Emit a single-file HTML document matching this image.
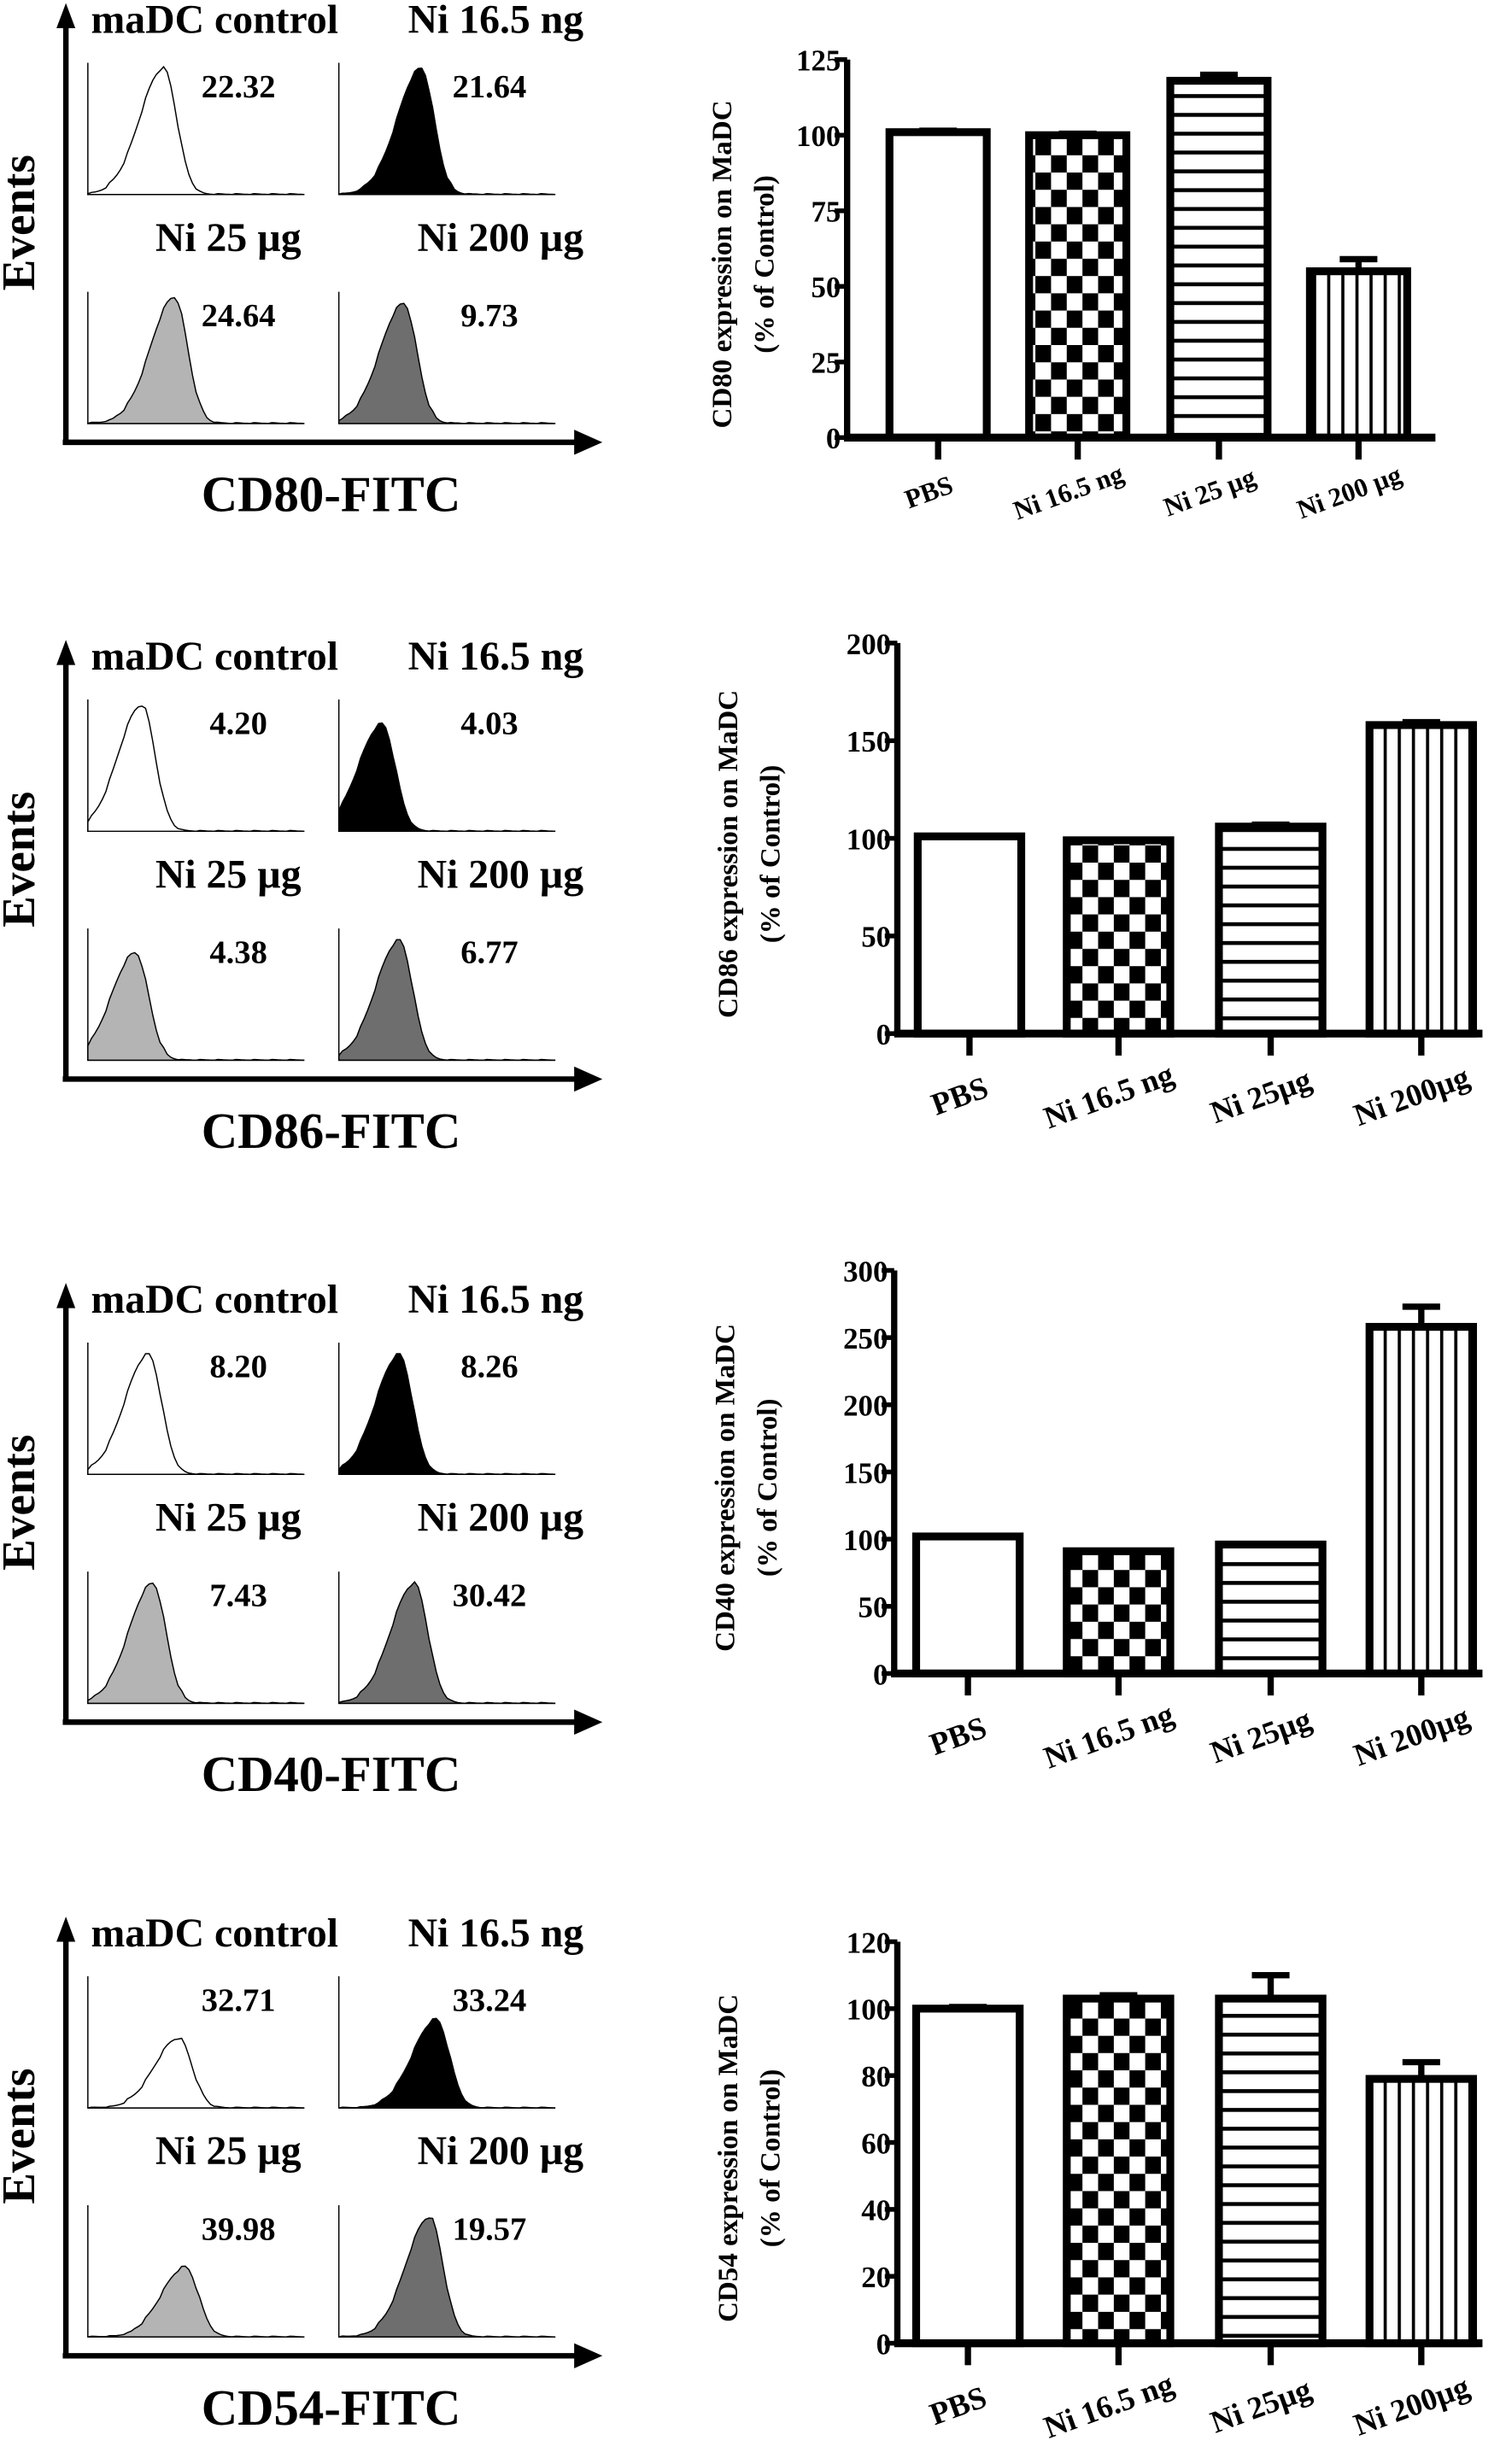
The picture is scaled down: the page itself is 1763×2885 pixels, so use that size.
<!DOCTYPE html>
<html><head><meta charset="utf-8"><style>
html,body{margin:0;padding:0;background:#fff}
svg{display:block}
text{font-family:"Liberation Serif",serif;font-weight:bold;fill:#000}
</style></head><body>
<svg id="fig" xmlns="http://www.w3.org/2000/svg" width="1763" height="2885" viewBox="0 0 960 1571" preserveAspectRatio="none">
<defs>
<pattern id="checker" patternUnits="userSpaceOnUse" width="20" height="22"><rect width="20" height="22" fill="#fff"/><rect width="10" height="11" fill="#000"/><rect x="10" y="11" width="10" height="11" fill="#000"/></pattern>
<pattern id="hstripe" patternUnits="userSpaceOnUse" width="10" height="12"><rect width="10" height="12" fill="#fff"/><rect y="0" width="10" height="2.5" fill="#000"/></pattern>
<pattern id="vstripe" patternUnits="userSpaceOnUse" width="9" height="10"><rect width="9" height="10" fill="#fff"/><rect x="0" width="2" height="10" fill="#000"/></pattern>
</defs>
</svg>
<script>
// ---- data ----
const markers = ["CD80-FITC","CD86-FITC","CD40-FITC","CD54-FITC"];
const yTitles = ["CD80 expression on MaDC","CD86 expression on MaDC","CD40 expression on MaDC","CD54 expression on MaDC"];
const histValues = [["22.32","21.64","24.64","9.73"],["4.20","4.03","4.38","6.77"],["8.20","8.26","7.43","30.42"],["32.71","33.24","39.98","19.57"]];
const histTitles = ["maDC control","Ni 16.5 ng","Ni 25 µg","Ni 200 µg"];
const histPeaks = [[0.35,0.38,0.4,0.3],[0.25,0.2,0.22,0.28],[0.28,0.28,0.3,0.35],[0.42,0.45,0.45,0.42]];
const histHeights = [[1,1,1,0.95],[1,0.85,0.85,0.95],[0.95,0.95,0.95,0.95],[0.55,0.7,0.55,0.95]];
const categories1 = ["PBS","Ni 16.5 ng","Ni 25 µg","Ni 200 µg"];
const categories2 = ["PBS","Ni 16.5 ng","Ni 25µg","Ni 200µg"];
const cd80Values = [101,100,118,55];
const cd80Err = [0.5,0.5,2,4];
const cd86Values = [101,99,106,158];
const cd86Err = [0,0,1,1.5];
const cd40Values = [102,91,96,258];
const cd40Err = [0,0,0,15];
const cd54Values = [100,103,103,79];
const cd54Err = [0.5,1,7,5];
const yMax = [125,200,300,120];
const yStep = [25,50,50,20];
// ---- layout ----
const NS="http://www.w3.org/2000/svg";
const svg=document.getElementById('fig');
function mk(tag,attrs,parent){const e=document.createElementNS(NS,tag);for(const k in attrs)e.setAttribute(k,attrs[k]);(parent||svg).appendChild(e);return e;}
const panelDy=[0,406,816,1220];
const chartCfg=[
 {ax:540,top:38,bot:279,right:915,bx:[567,656,746,835],bw:62,vals:cd80Values,err:cd80Err,cats:categories1,tx:466},
 {ax:572,top:410,bot:659,right:945,bx:[585,680,777,873],bw:66,vals:cd86Values,err:cd86Err,cats:categories2,tx:470},
 {ax:570,top:810,bot:1067,right:945,bx:[584,680,777,873],bw:66,vals:cd40Values,err:cd40Err,cats:categories2,tx:468},
 {ax:572,top:1238,bot:1494,right:945,bx:[584,680,777,873],bw:66,vals:cd54Values,err:cd54Err,cats:categories2,tx:470}
];
const fills=["#fff","#000","#b4b4b4","#6e6e6e"];
const pats=["#fff","url(#checker)","url(#hstripe)","url(#vstripe)"];
for(let p=0;p<4;p++){
 const dy=panelDy[p];
 const g=mk('g',{});
 
 
 const ya=mk('path',{d:`M42 ${dy+282} L42 ${dy+14}`,stroke:'#000','stroke-width':3.5,fill:'none'},g);
 
 mk('path',{d:`M36 ${dy+18} L42 ${dy+2} L48 ${dy+18}Z`,fill:'#000'},g);
 const xa=mk('path',{d:`M40 ${dy+282} L368 ${dy+282}`,stroke:'#000','stroke-width':3.5,fill:'none'},g);
 
 mk('path',{d:`M366 ${dy+274} L384 ${dy+282} L366 ${dy+290}Z`,fill:'#000'},g);
 let t=mk('text',{x:15,y:dy+142,'font-size':30,'text-anchor':'middle',transform:`rotate(-90 15 ${dy+142})`,'dominant-baseline':'middle'},g);
 t.textContent='Events';
 t=mk('text',{x:211,y:dy+326,'font-size':32,'text-anchor':'middle'},g);
 t.textContent=markers[p];
 const titlePos=[[58,dy+21,'start'],[372,dy+21,'end'],[192,dy+160,'end'],[372,dy+160,'end']];
 const boxes=[[56,dy+40],[216,dy+40],[56,dy+186],[216,dy+186]];
 for(let k=0;k<4;k++){
  t=mk('text',{x:titlePos[k][0],y:titlePos[k][1],'font-size':26,'text-anchor':titlePos[k][2]},g);
  t.textContent=histTitles[k];
  const [bx,by]=boxes[k];const w=138,h=84;
  mk('path',{d:`M${bx} ${by} L${bx} ${by+h} L${bx+w} ${by+h}`,stroke:'#000','stroke-width':0.8,fill:'none'},g);
  const c=histPeaks[p][k],hh=histHeights[p][k];let d=`M${bx} ${by+h}`;
  for(let i=0;i<=60;i++){const xf=i/60;const s=xf<c?0.11:0.06;let v=Math.exp(-Math.pow((xf-c)/s,2)/2)*hh;v+=((i*7919)%5)/200*(v>0.05?1:0.3);d+=` L${(bx+xf*w).toFixed(1)} ${(by+h-v*h*0.95).toFixed(1)}`;}
  d+=` L${bx+w} ${by+h}Z`;
  const hp=mk('path',{d:d,fill:fills[k],stroke:'#000','stroke-width':0.8},g);
  
  t=mk('text',{x:bx+96,y:by+22,'font-size':21,'text-anchor':'middle'},g);
  t.textContent=histValues[p][k];
 }
 const cf=chartCfg[p];
 const cg=mk('g',{});
 const ys=v=>cf.bot-(v/yMax[p])*(cf.bot-cf.top);
 for(let i=0;i<4;i++){
  const x=cf.bx[i],w=cf.bw,yv=ys(cf.vals[i]);
  if(cf.err[i]>0){const ye=ys(cf.vals[i]+cf.err[i]);mk('path',{d:`M${x+w/2} ${yv} L${x+w/2} ${ye} M${x+w/2-12} ${ye} L${x+w/2+12} ${ye}`,stroke:'#000','stroke-width':4},cg);}
  const r=mk('rect',{x:x,y:yv,width:w,height:cf.bot-yv,fill:pats[i],stroke:'#000','stroke-width':5},cg);
  
  mk('path',{d:`M${x+w/2} ${cf.bot} L${x+w/2} ${cf.bot+14}`,stroke:'#000','stroke-width':4},cg);
  const lx=x+w/2-4,ly=cf.bot+(p==0?40:46);
  t=mk('text',{x:lx,y:ly,'font-size':p==0?17:20,'text-anchor':'middle',transform:`rotate(-20 ${lx} ${ly})`},cg);
  t.textContent=cf.cats[i];
 }
 mk('path',{d:`M${cf.ax} ${cf.top} L${cf.ax} ${cf.bot}`,stroke:'#000','stroke-width':4},cg);
 mk('path',{d:`M${cf.ax-2} ${cf.bot} L${cf.right} ${cf.bot}`,stroke:'#000','stroke-width':5},cg);
 for(let v=0;v<=yMax[p];v+=yStep[p]){
  const y=ys(v);
  mk('path',{d:`M${cf.ax-8} ${y} L${cf.ax} ${y}`,stroke:'#000','stroke-width':3},cg);
  t=mk('text',{x:cf.ax-4,y:y+7,'font-size':19,'text-anchor':'end'},cg);
  t.textContent=v;
 }
 const yc=(cf.top+cf.bot)/2+10, lx1=cf.tx, lx2=cf.tx+27;
 t=mk('text',{x:lx1,y:yc,'font-size':18,'text-anchor':'middle',transform:`rotate(-90 ${lx1} ${yc})`},cg);
 t.textContent=yTitles[p];
 t=mk('text',{x:lx2,y:yc,'font-size':18,'text-anchor':'middle',transform:`rotate(-90 ${lx2} ${yc})`},cg);
 t.textContent='(% of Control)';
}
</script>
</body></html>
